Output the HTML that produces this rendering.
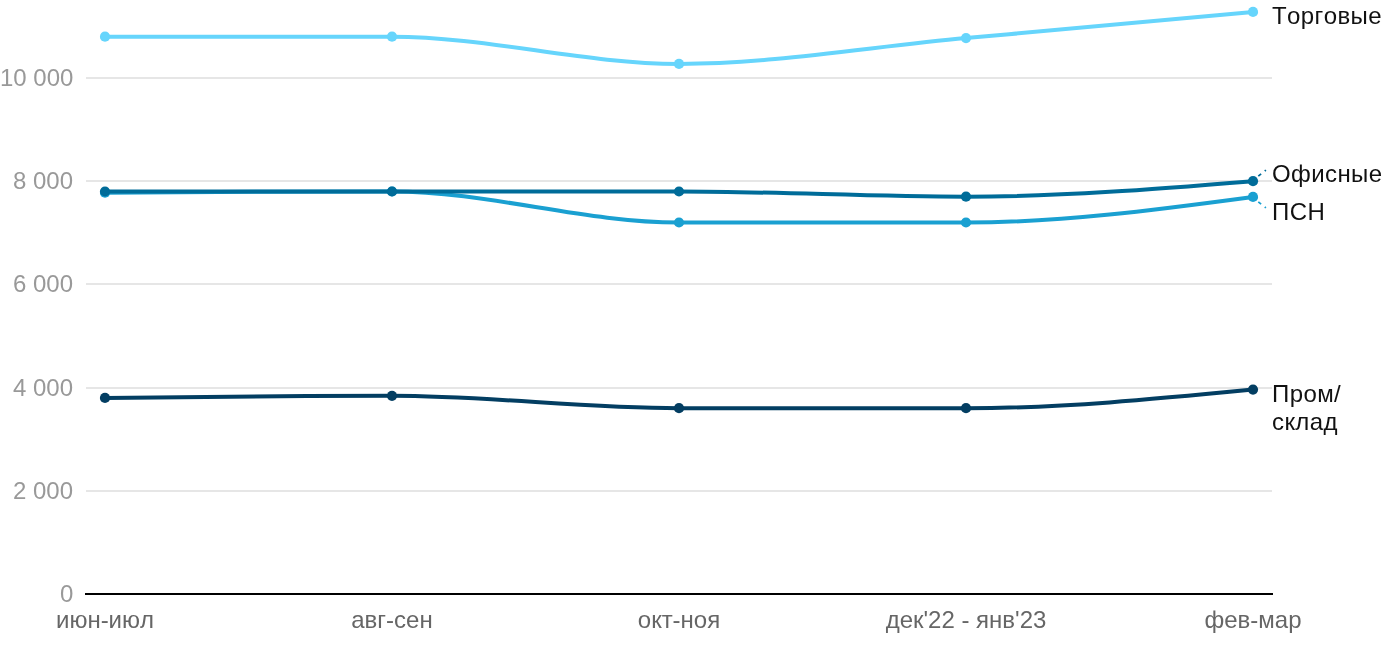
<!DOCTYPE html>
<html><head><meta charset="utf-8">
<style>
html,body{margin:0;padding:0;background:#fff;}
body{width:1400px;height:650px;position:relative;overflow:hidden;font-family:"Liberation Sans",sans-serif;font-kerning:none;}
svg{position:absolute;left:0;top:0;}
.yl{position:absolute;will-change:transform;right:1327px;font-size:24px;line-height:24px;color:#999;text-align:right;white-space:nowrap;}
.xl{position:absolute;will-change:transform;font-size:24px;line-height:24px;color:#666;white-space:nowrap;width:400px;text-align:center;}
.lb{position:absolute;will-change:transform;letter-spacing:0.4px;left:1272px;font-size:24px;line-height:28px;color:#111;white-space:nowrap;}
</style></head><body>
<svg width="1400" height="650" viewBox="0 0 1400 650">
<rect x="86" y="77" width="1186" height="2" fill="#e6e6e6"/>
<rect x="86" y="180" width="1186" height="2" fill="#e6e6e6"/>
<rect x="86" y="283" width="1186" height="2" fill="#e6e6e6"/>
<rect x="86" y="387" width="1186" height="2" fill="#e6e6e6"/>
<rect x="86" y="490" width="1186" height="2" fill="#e6e6e6"/>
<rect x="85" y="593" width="1188" height="2" fill="#000"/>
<g><path d="M105.00,36.70C200.67,36.70,296.33,36.70,392.00,36.70C487.67,36.70,583.33,63.90,679.00,63.90C774.67,63.90,870.33,46.77,966.00,38.10C1061.67,29.43,1157.33,20.67,1253.00,11.90" fill="none" stroke="#66d5fc" stroke-width="4" stroke-linecap="round" stroke-linejoin="round"/>
<circle cx="105" cy="36.7" r="5.1" fill="#66d5fc"/>
<circle cx="392" cy="36.7" r="5.1" fill="#66d5fc"/>
<circle cx="679" cy="63.9" r="5.1" fill="#66d5fc"/>
<circle cx="966" cy="38.1" r="5.1" fill="#66d5fc"/>
<circle cx="1253" cy="11.9" r="5.1" fill="#66d5fc"/>
<path d="M105.00,192.70C200.67,192.10,296.33,191.50,392.00,191.50C487.67,191.50,583.33,222.50,679.00,222.50C774.67,222.50,870.33,222.50,966.00,222.50C1061.67,222.50,1157.33,209.70,1253.00,196.90" fill="none" stroke="#1aa0d1" stroke-width="4" stroke-linecap="round" stroke-linejoin="round"/>
<circle cx="105" cy="192.7" r="5.1" fill="#1aa0d1"/>
<circle cx="392" cy="191.5" r="5.1" fill="#1aa0d1"/>
<circle cx="679" cy="222.5" r="5.1" fill="#1aa0d1"/>
<circle cx="966" cy="222.5" r="5.1" fill="#1aa0d1"/>
<circle cx="1253" cy="196.9" r="5.1" fill="#1aa0d1"/>
<path d="M105.00,191.50C200.67,191.50,296.33,191.50,392.00,191.50C487.67,191.50,583.33,191.50,679.00,191.50C774.67,191.50,870.33,196.70,966.00,196.70C1061.67,196.70,1157.33,188.95,1253.00,181.20" fill="none" stroke="#006c99" stroke-width="4" stroke-linecap="round" stroke-linejoin="round"/>
<circle cx="105" cy="191.5" r="5.1" fill="#006c99"/>
<circle cx="392" cy="191.5" r="5.1" fill="#006c99"/>
<circle cx="679" cy="191.5" r="5.1" fill="#006c99"/>
<circle cx="966" cy="196.7" r="5.1" fill="#006c99"/>
<circle cx="1253" cy="181.2" r="5.1" fill="#006c99"/>
<path d="M105.00,397.90C200.67,396.85,296.33,395.80,392.00,395.80C487.67,395.80,583.33,408.20,679.00,408.20C774.67,408.20,870.33,408.20,966.00,408.20C1061.67,408.20,1157.33,398.90,1253.00,389.60" fill="none" stroke="#033e62" stroke-width="4" stroke-linecap="round" stroke-linejoin="round"/>
<circle cx="105" cy="397.9" r="5.1" fill="#033e62"/>
<circle cx="392" cy="395.8" r="5.1" fill="#033e62"/>
<circle cx="679" cy="408.2" r="5.1" fill="#033e62"/>
<circle cx="966" cy="408.2" r="5.1" fill="#033e62"/>
<circle cx="1253" cy="389.6" r="5.1" fill="#033e62"/></g>
<line x1="1258.3" y1="176.1" x2="1265.9" y2="170.1" stroke="#006c99" stroke-width="1.8" stroke-dasharray="3.6 4.6"/>
<line x1="1258.3" y1="201.9" x2="1265.9" y2="207.9" stroke="#1aa0d1" stroke-width="1.8" stroke-dasharray="3.6 4.6"/>
</svg>
<div class="yl" style="top:66px">10 000</div>
<div class="yl" style="top:169px">8 000</div>
<div class="yl" style="top:272px">6 000</div>
<div class="yl" style="top:376px">4 000</div>
<div class="yl" style="top:479px">2 000</div>
<div class="yl" style="top:582px">0</div>
<div class="xl" style="left:-95px;top:608px">июн-июл</div>
<div class="xl" style="left:192px;top:608px">авг-сен</div>
<div class="xl" style="left:479px;top:608px">окт-ноя</div>
<div class="xl" style="left:766px;top:608px">дек'22 - янв'23</div>
<div class="xl" style="left:1053px;top:608px">фев-мар</div>
<div class="lb" style="top:2px">Торговые</div>
<div class="lb" style="top:160px">Офисные</div>
<div class="lb" style="top:198px">ПСН</div>
<div class="lb" style="top:380px">Пром/<br>склад</div>
</body></html>
